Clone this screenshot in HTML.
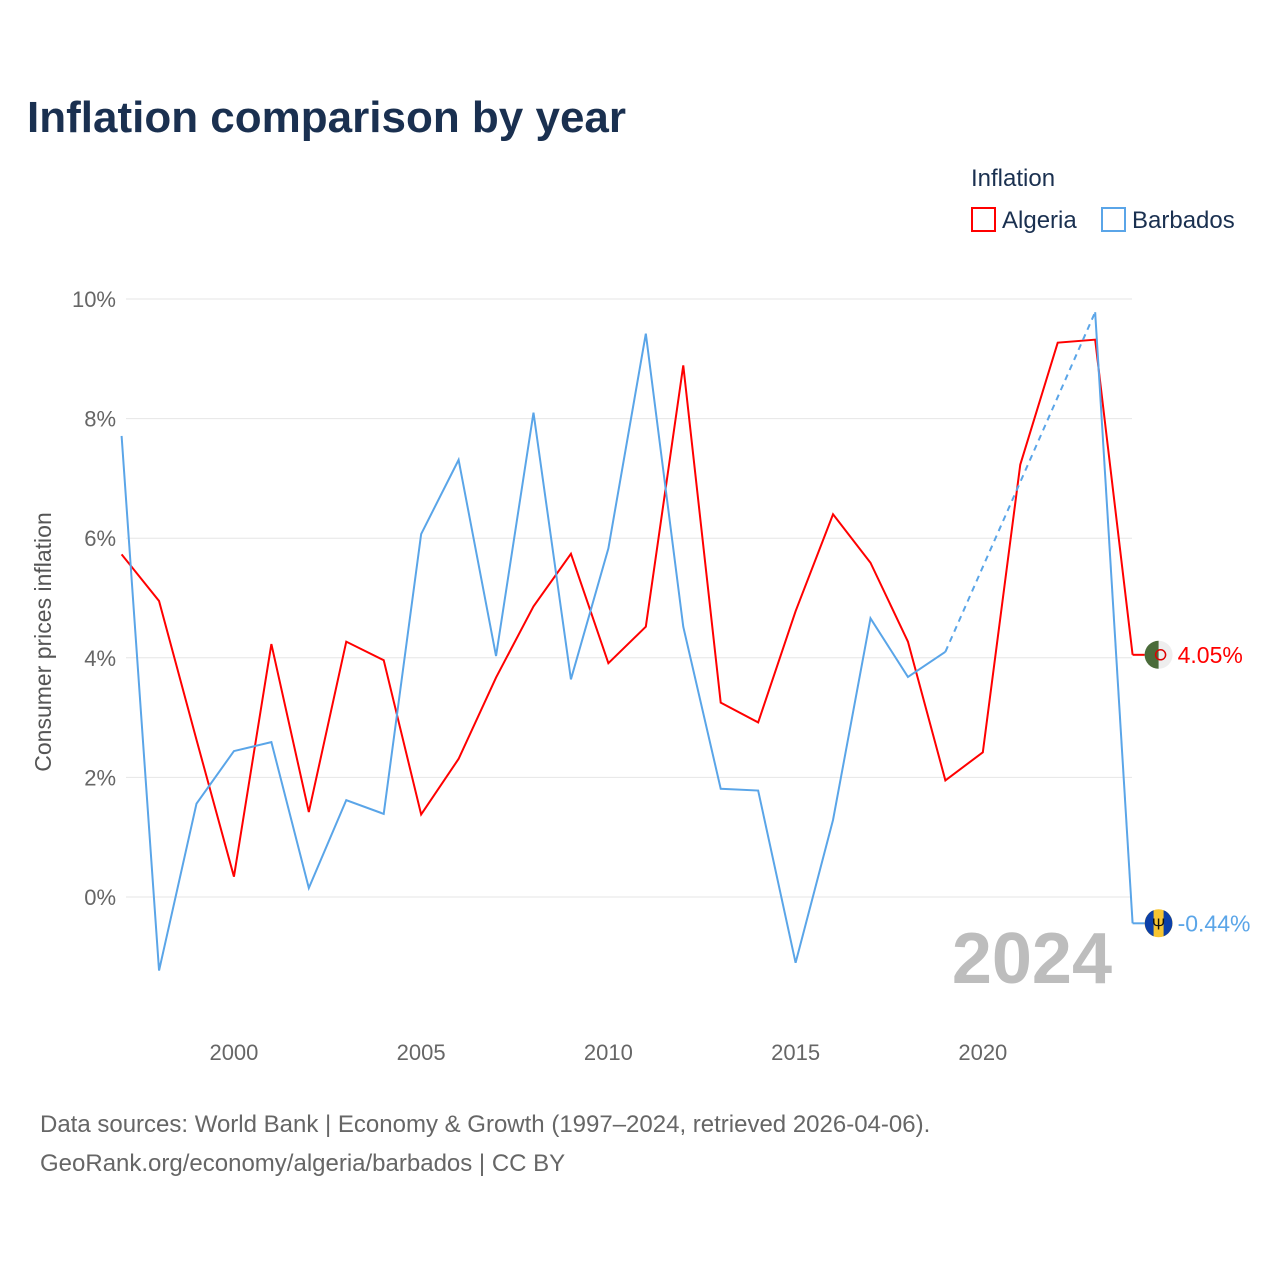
<!DOCTYPE html>
<html><head><meta charset="utf-8"><style>
body{margin:0;background:#fff;font-family:"Liberation Sans",sans-serif}
</style></head><body>
<svg width="1280" height="1280" xmlns="http://www.w3.org/2000/svg" font-family="Liberation Sans, sans-serif">
<text x="27" y="132" font-size="44" font-weight="bold" fill="#1a3050">Inflation comparison by year</text>
<text x="971" y="186" font-size="24" fill="#1a3050">Inflation</text>
<g><rect x="972" y="208" width="23" height="23" fill="none" stroke="#f00" stroke-width="2"/><text x="1002" y="228" font-size="24" fill="#1a3050">Algeria</text></g>
<g><rect x="1102" y="208" width="23" height="23" fill="none" stroke="#5aa5e8" stroke-width="2"/><text x="1132" y="228" font-size="24" fill="#1a3050">Barbados</text></g>
<g id="grid"></g><g id="ylab"></g><g id="xlab"></g>
<text x="1112" y="983" font-size="72" font-weight="bold" fill="#bdbdbd" text-anchor="end">2024</text>
<text transform="translate(51,642) rotate(-90)" font-size="23" fill="#555" text-anchor="middle">Consumer prices inflation</text>
<g id="series"></g>
<text x="40" y="1132" font-size="24" fill="#666">Data sources: World Bank | Economy &amp; Growth (1997–2024, retrieved 2026-04-06).</text>
<text x="40" y="1171" font-size="24" fill="#666">GeoRank.org/economy/algeria/barbados | CC BY</text>
</svg>
<script>
const years=[1997,1998,1999,2000,2001,2002,2003,2004,2005,2006,2007,2008,2009,2010,2011,2012,2013,2014,2015,2016,2017,2018,2019,2020,2021,2022,2023,2024];
const algeria=[5.73,4.95,2.63,0.34,4.23,1.42,4.27,3.96,1.38,2.31,3.67,4.86,5.74,3.91,4.52,8.89,3.25,2.92,4.78,6.40,5.59,4.27,1.95,2.42,7.23,9.27,9.32,4.05];
const barbados=[7.71,-1.23,1.56,2.44,2.59,0.15,1.62,1.39,6.07,7.31,4.03,8.10,3.64,5.83,9.42,4.52,1.81,1.78,-1.10,1.29,4.66,3.68,4.10,null,null,null,9.78,-0.44];
const yTicks=[0,2,4,6,8,10];
const xTicks=[2000,2005,2010,2015,2020];
const NS="http://www.w3.org/2000/svg";
const X=y=>121.6+(y-1997)*(1132.6-121.6)/27;
const Y=v=>897-v*59.8;
function mk(t,a,p){const e=document.createElementNS(NS,t);for(const k in a)e.setAttribute(k,a[k]);p.appendChild(e);return e;}
const grid=document.getElementById('grid'),yl=document.getElementById('ylab'),xl=document.getElementById('xlab'),s=document.getElementById('series');
yTicks.forEach(t=>{
const l=mk('line',{x1:126,x2:1132,y1:Y(t),y2:Y(t),stroke:'#e6e6e6','stroke-width':1},grid);


const tx=mk('text',{x:116,y:Y(t)+8,'font-size':22,fill:'#666','text-anchor':'end'},yl);tx.textContent=t+'%';


});
xTicks.forEach(t=>{
const tx=mk('text',{x:X(t),y:1060,'font-size':22,fill:'#666','text-anchor':'middle'},xl);tx.textContent=t;


});
function draw(vals,color,name){
let segs=[],cur=[],last=null,gaps=[];
vals.forEach((v,i)=>{
if(v==null){if(cur.length){segs.push(cur);cur=[];}return;}
const p=[X(years[i]),Y(v)];
if(!cur.length&&last&&last.i!==i-1)gaps.push([last.p,p]);
cur.push(p);last={i,p};
});
if(cur.length)segs.push(cur);
segs.forEach(sg=>{
const pl=mk('polyline',{points:sg.map(p=>p.join(',')).join(' '),fill:'none',stroke:color,'stroke-width':2},s);


});
gaps.forEach(g=>{
const l=mk('line',{x1:g[0][0],y1:g[0][1],x2:g[1][0],y2:g[1][1],stroke:color,'stroke-width':2,'stroke-dasharray':'6,5'},s);


});
const v=vals[vals.length-1],y=Y(v),x=X(years[years.length-1]);
const h=mk('line',{x1:x,x2:x+14,y1:y,y2:y,stroke:color,'stroke-width':2},s);


return {v,y,x};
}
const a=draw(algeria,'#f00','algeria');
const b=draw(barbados,'#5aa5e8','barbados');
function flag(e,kind,color,name){
const g=mk('g',{},s);


const cx=e.x+26;
if(kind==='dz'){
mk('circle',{cx,cy:e.y,r:14,fill:'#eee'},g);
mk('path',{d:`M${cx},${e.y-14} A14,14 0 0,0 ${cx},${e.y+14} Z`,fill:'#4a6b3a'},g);
mk('circle',{cx:cx+2,cy:e.y,r:5,fill:'none',stroke:'#d00','stroke-width':1.5},g);
}else{
mk('circle',{cx,cy:e.y,r:14,fill:'#f7c531'},g);
mk('path',{d:`M${cx-5},${e.y-13} A14,14 0 0,0 ${cx-5},${e.y+13} Z`,fill:'#0b3fa8'},g);
mk('path',{d:`M${cx+5},${e.y-13} A14,14 0 0,1 ${cx+5},${e.y+13} Z`,fill:'#0b3fa8'},g);
mk('text',{x:cx,y:e.y+6,'font-size':16,'text-anchor':'middle',fill:'#111'},g).textContent='Ψ';
}
const t=mk('text',{x:cx+19,y:e.y+8,'font-size':23,fill:color},s);
t.textContent=e.v.toFixed(2)+'%';


}
flag(a,'dz','#f00','algeria');
flag(b,'bb','#5aa5e8','barbados');
</script>
</body></html>
